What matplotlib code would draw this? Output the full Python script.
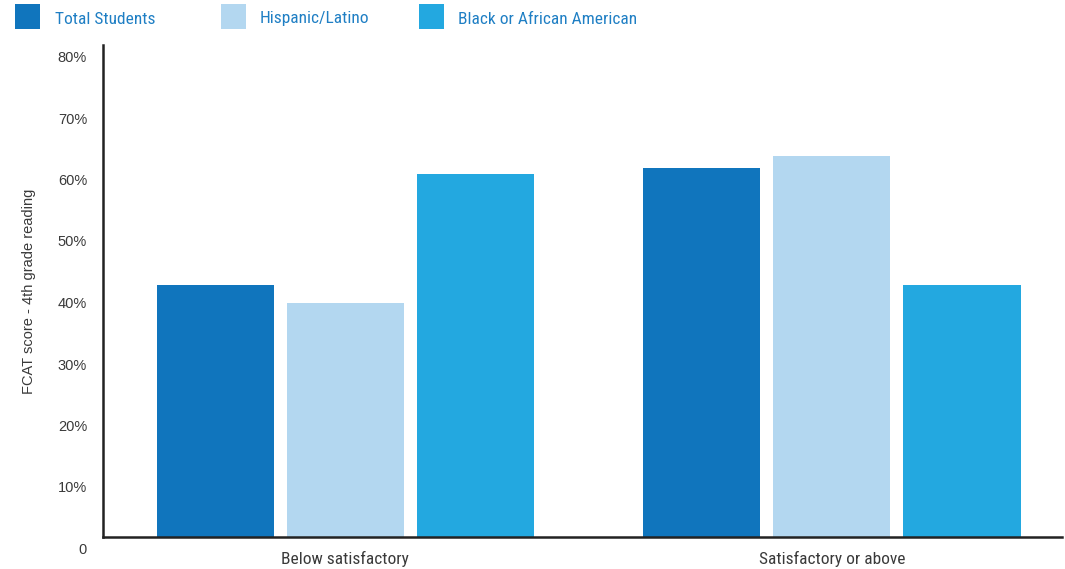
import matplotlib.pyplot as plt
import matplotlib.transforms as mtransforms
import numpy as np
from matplotlib.patches import Rectangle

categories = ["Below satisfactory", "Satisfactory or above"]
series_names = ["Total Students", "Hispanic/Latino", "Black or African American"]
total_students = [41, 60]
hispanic_latino = [38, 62]
black_african_american = [59, 41]
y_ticks = [0, 10, 20, 30, 40, 50, 60, 70, 80]
y_tick_labels = ["0", "10%", "20%", "30%", "40%", "50%", "60%", "70%", "80%"]

colors = ["#1075bd", "#b3d7f0", "#23a8e0"]
text_grey = "#3a3a3a"
legend_blue = "#1f7fc4"

narrow = ["Roboto Condensed", "Archivo Narrow", "Liberation Sans Narrow", "DejaVu Sans"]
plain = ["Liberation Sans", "DejaVu Sans"]
plt.rcParams["font.family"] = narrow


def main() -> None:
    fig = plt.figure(figsize=(10.65, 5.69), dpi=100)
    ax = fig.add_axes([103 / 1065, 1 - 537 / 569, (1062 - 103) / 1065, (537 - 45) / 569])

    x = np.arange(len(categories))
    width = 0.2407
    step = 0.2675
    series = [total_students, hispanic_latino, black_african_american]
    for i, (vals, color) in enumerate(zip(series, colors)):
        ax.bar(x + (i - 1) * step, vals, width=width, color=color, linewidth=0)

    ax.set_xlim(-0.498, 1.473)
    ax.set_ylim(0, 80)
    ax.set_yticks(y_ticks)
    ax.set_yticklabels(y_tick_labels, family=plain, fontsize=10.5)
    ax.set_xticks(x)
    ax.set_xticklabels(categories, fontsize=12.5)
    ax.tick_params(axis="both", length=0, labelcolor=text_grey)
    ax.tick_params(axis="y", pad=11.5)
    ax.tick_params(axis="x", pad=10)

    # y labels sit a little below their gridline positions
    shift = mtransforms.ScaledTranslation(0, -11.5 / 100, fig.dpi_scale_trans)
    for lab in ax.get_yticklabels():
        lab.set_transform(lab.get_transform() + shift)

    for side in ["top", "right"]:
        ax.spines[side].set_visible(False)
    for side in ["left", "bottom"]:
        ax.spines[side].set_color("#222222")
        ax.spines[side].set_linewidth(1.8)

    fig.text(29 / 1065, 1 - 291 / 569, "FCAT score - 4th grade reading",
             rotation=90, ha="center", va="center", fontsize=10.5,
             color=text_grey, family=plain)

    # legend across the top
    patch_x = [15, 221, 419]
    text_x = [55, 260, 458]
    for px, tx, name, color in zip(patch_x, text_x, series_names, colors):
        fig.patches.append(Rectangle((px / 1065, 1 - 29 / 569), 25 / 1065, 25 / 569,
                                     transform=fig.transFigure, color=color, linewidth=0))
        fig.text(tx / 1065, 1 - 19 / 569, name, ha="left", va="center",
                 fontsize=12.5, color=legend_blue)

    fig.savefig("out.png", dpi=100)


if __name__ == "__main__":
    main()
